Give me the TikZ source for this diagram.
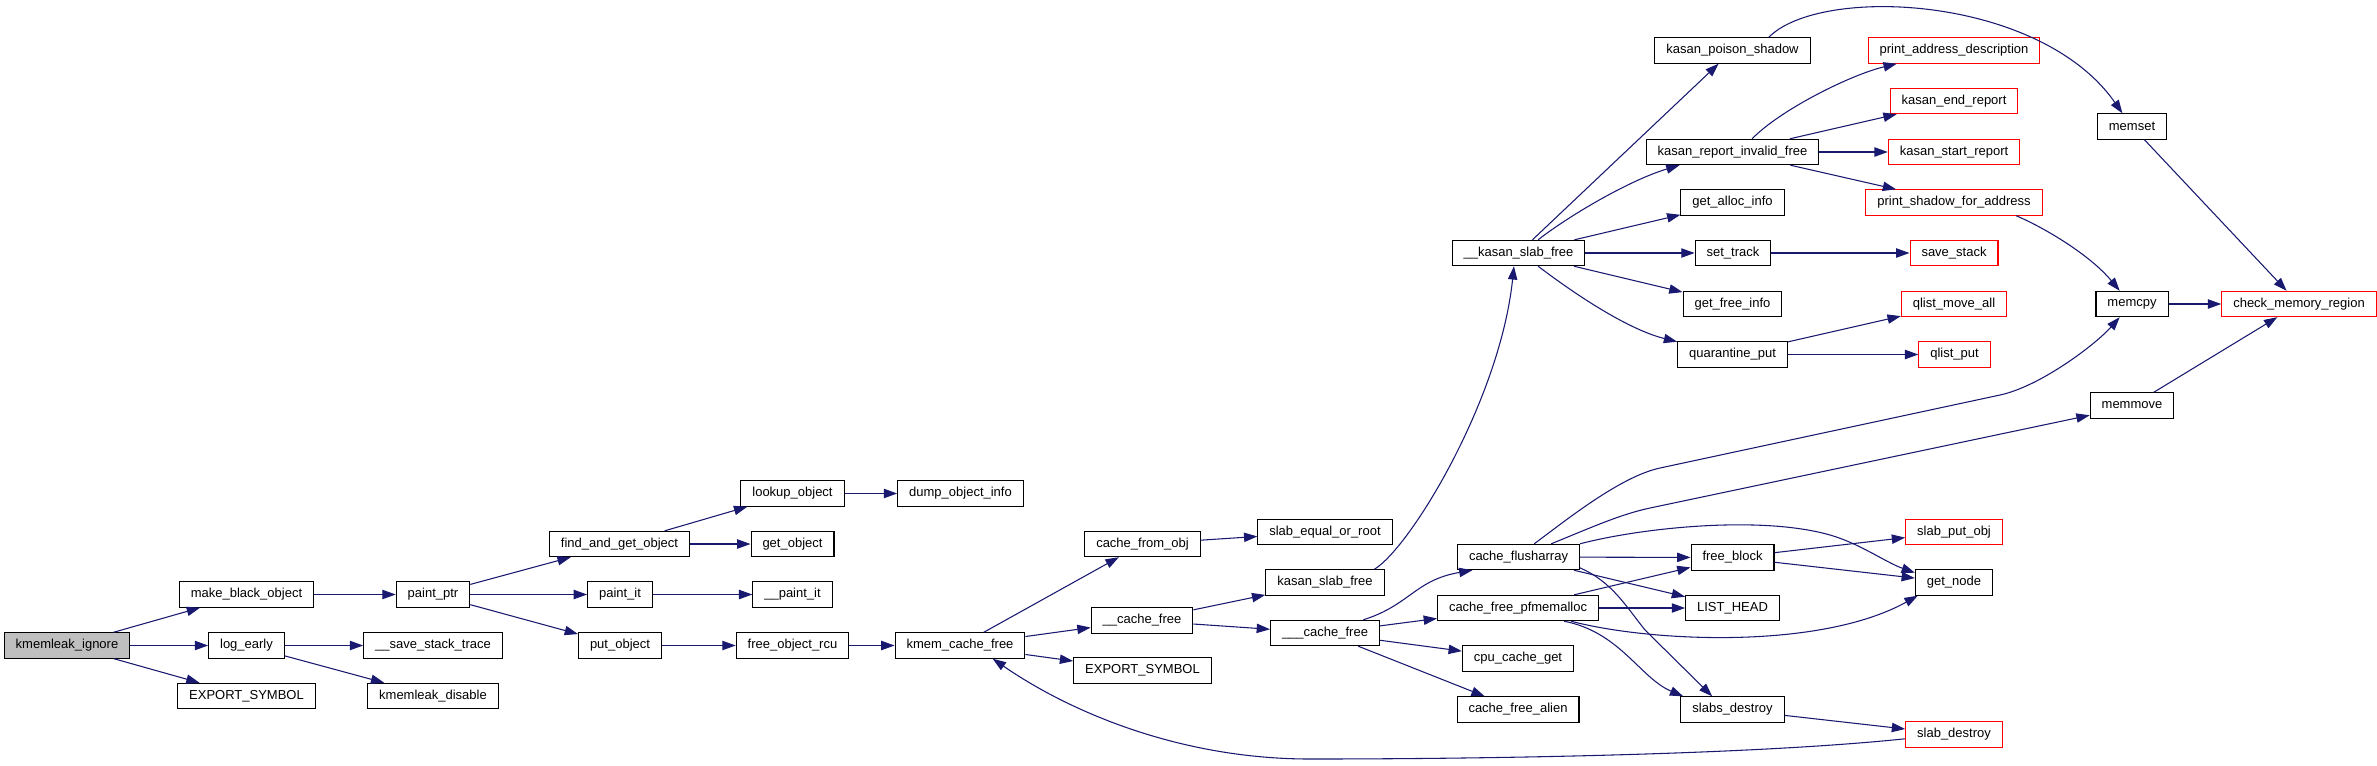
\documentclass[tikz,border=0pt]{standalone}
\usepackage{fontspec}
\setmainfont{Liberation Sans}
\usetikzlibrary{arrows.meta}
\definecolor{edgeblue}{HTML}{191970}

\begin{document}
\begin{tikzpicture}[
    x=0.75pt, y=-0.75pt,
    fn/.style={draw=black, fill=white, line width=0.8pt, minimum height=19pt,
        inner xsep=8.6pt, inner ysep=0pt, font=\fontsize{9.75}{11}\selectfont},
    ext/.style={fn, draw=red},
    root/.style={fn, fill=black!25},
    call/.style={->, draw=edgeblue, line width=0.8pt},
    >={Triangle[length=10pt, width=7pt]}
]
\useasboundingbox (0,0) rectangle (2377,765);

% --- kmemleak side ---
\node[root] (ignore) at (67,645.5) {kmemleak\_ignore};
\node[fn] (mkblack) at (246.5,594.5) {make\_black\_object};
\node[fn] (logearly) at (246.5,645.5) {log\_early};
\node[fn] (exportA) at (246.5,696) {EXPORT\_SYMBOL};
\node[fn] (paintptr) at (433,594.5) {paint\_ptr};
\node[fn] (savetrace) at (433,645.5) {\_\_save\_stack\_trace};
\node[fn] (disable) at (433,696) {kmemleak\_disable};
\node[fn] (findget) at (619.5,544) {find\_and\_get\_object};
\node[fn] (paintit) at (620,594.5) {paint\_it};
\node[fn] (putobj) at (620,645.5) {put\_object};
\node[fn] (lookup) at (792.5,493.5) {lookup\_object};
\node[fn] (dumpinfo) at (960.5,493.5) {dump\_object\_info};
\node[fn] (getobj) at (792.5,544) {get\_object};
\node[fn] (paintitB) at (792.5,594.5) {\_\_paint\_it};
\node[fn] (freercu) at (792.5,645.5) {free\_object\_rcu};
\node[fn] (kcfree) at (960,645.5) {kmem\_cache\_free};

% --- slab side ---
\node[fn] (fromobj) at (1142.5,544) {cache\_from\_obj};
\node[fn] (cfreeA) at (1142,620.5) {\_\_cache\_free};
\node[fn] (exportB) at (1142.5,670.5) {EXPORT\_SYMBOL};
\node[fn] (slabeq) at (1325,532) {slab\_equal\_or\_root};
\node[fn] (kslab) at (1325,582.5) {kasan\_slab\_free};
\node[fn] (cfreeB) at (1325,633) {\_\_\_cache\_free};
\node[fn] (kslabB) at (1518.5,253) {\_\_kasan\_slab\_free};
\node[fn] (flush) at (1518.5,557) {cache\_flusharray};
\node[fn] (pfmem) at (1518,608) {cache\_free\_pfmemalloc};
\node[fn] (cpuget) at (1518,658.5) {cpu\_cache\_get};
\node[fn] (alien) at (1518,709.5) {cache\_free\_alien};

% --- kasan side ---
\node[fn] (poison) at (1732.5,50.5) {kasan\_poison\_shadow};
\node[fn] (invfree) at (1732.5,152) {kasan\_report\_invalid\_free};
\node[fn] (allocinfo) at (1732.5,202.5) {get\_alloc\_info};
\node[fn] (settrack) at (1733,253) {set\_track};
\node[fn] (freeinfo) at (1732.5,304) {get\_free\_info};
\node[fn] (qput) at (1732.5,354.5) {quarantine\_put};
\node[fn] (freeblock) at (1732.5,557.5) {free\_block};
\node[fn] (listhead) at (1732.5,608) {LIST\_HEAD};
\node[fn] (slabsdes) at (1732.5,709.5) {slabs\_destroy};
\node[ext] (printaddr) at (1954,50.5) {print\_address\_description};
\node[ext] (endrep) at (1954,101) {kasan\_end\_report};
\node[ext] (startrep) at (1954,152) {kasan\_start\_report};
\node[ext] (printshadow) at (1954,202.5) {print\_shadow\_for\_address};
\node[ext] (savestack) at (1954,253) {save\_stack};
\node[ext] (qmove) at (1954,304) {qlist\_move\_all};
\node[ext] (qlistput) at (1954.5,354.5) {qlist\_put};
\node[ext] (putobjB) at (1954,532) {slab\_put\_obj};
\node[fn] (getnode) at (1954,582.5) {get\_node};
\node[ext] (slabdes) at (1954,734.5) {slab\_destroy};
\node[fn] (memset) at (2132,126.5) {memset};
\node[fn] (memcpy) at (2132,304) {memcpy};
\node[fn] (memmove) at (2132,405.5) {memmove};
\node[ext] (checkmem) at (2299,304) {check\_memory\_region};

% --- calls ---
\draw[call] (ignore) -- (mkblack);
\draw[call] (ignore) -- (logearly);
\draw[call] (ignore) -- (exportA);
\draw[call] (mkblack) -- (paintptr);
\draw[call] (logearly) -- (savetrace);
\draw[call] (logearly) -- (disable);
\draw[call] (paintptr) -- (findget);
\draw[call] (paintptr) -- (paintit);
\draw[call] (paintptr) -- (putobj);
\draw[call] (findget) -- (lookup);
\draw[call] (findget) -- (getobj);
\draw[call] (lookup) -- (dumpinfo);
\draw[call] (paintit) -- (paintitB);
\draw[call] (putobj) -- (freercu);
\draw[call] (freercu) -- (kcfree);
\draw[call] (kcfree) -- (fromobj);
\draw[call] (kcfree) -- (cfreeA);
\draw[call] (kcfree) -- (exportB);
\draw[call] (fromobj) -- (slabeq);
\draw[call] (cfreeA) -- (kslab);
\draw[call] (cfreeA) -- (cfreeB);
\draw[call] (kslab.15) .. controls (1410,548) and (1500,400) .. (kslabB.-109);

% __kasan_slab_free fan-out
\draw[call] (kslabB) -- (poison);
\draw[call] (kslabB.34) .. controls (1570,215) and (1630,180) .. (invfree.-166);
\draw[call] (kslabB) -- (allocinfo);
\draw[call] (kslabB) -- (settrack);
\draw[call] (kslabB) -- (freeinfo);
\draw[call] (kslabB.-34) .. controls (1580,298) and (1630,330) .. (qput.167);
\draw[call] (poison.20) .. controls (1820,-15) and (2040,-5) .. (memset.126);
\draw[call] (invfree.34) .. controls (1780,110) and (1850,75) .. (printaddr.-167);
\draw[call] (invfree) -- (endrep);
\draw[call] (invfree) -- (startrep);
\draw[call] (invfree) -- (printshadow);
\draw[call] (settrack) -- (savestack);
\draw[call] (qput) -- (qmove);
\draw[call] (qput) -- (qlistput);
\draw[call] (printshadow.-12) .. controls (2045,228) and (2090,255) .. (memcpy.133);
\draw[call] (memset) -- (checkmem);
\draw[call] (memcpy) -- (checkmem);
\draw[call] (memmove) -- (checkmem);

% ___cache_free fan-out
\draw[call] (cfreeB.19) .. controls (1410,605) and (1415,580) .. (flush.-164);
\draw[call] (cfreeB) -- (pfmem);
\draw[call] (cfreeB) -- (cpuget);
\draw[call] (cfreeB) -- (alien);
\draw[call] (flush.40) .. controls (1565,521) and (1620,476.6) .. (1660,468)
    -- (2000,395) .. controls (2040,386.4) and (2095,345) .. (memcpy.-133);
\draw[call] (flush.22) .. controls (1590,528) and (1620,514.4) .. (1650,508)
    -- (memmove.-167);
\draw[call] (flush.north east) .. controls (1640,528) and (1760,515) .. (1830,535)
    .. controls (1860,543.6) and (1885,562) .. (getnode.166);
\draw[call] (flush) -- (freeblock);
\draw[call] (flush) -- (listhead);
\draw[call] (flush.-10) .. controls (1612,582) and (1625,605) .. (1645,630)
    -- (slabsdes.147);
\draw[call] (pfmem) -- (freeblock);
\draw[call] (pfmem) -- (listhead);
\draw[call] (pfmem.-14) .. controls (1650,642) and (1820,650) .. (getnode.-160);
\draw[call] (pfmem.-16) .. controls (1620,632) and (1640,678) .. (slabsdes.165);
\draw[call] (freeblock) -- (putobjB);
\draw[call] (freeblock) -- (getnode);
\draw[call] (slabsdes) -- (slabdes);

% slab_destroy loops back to kmem_cache_free
\draw[call] (slabdes.-175) .. controls (1750,755) and (1480,759) .. (1310,759)
    .. controls (1180,759) and (1070,712) .. (kcfree.-22);

\end{tikzpicture}
\end{document}
